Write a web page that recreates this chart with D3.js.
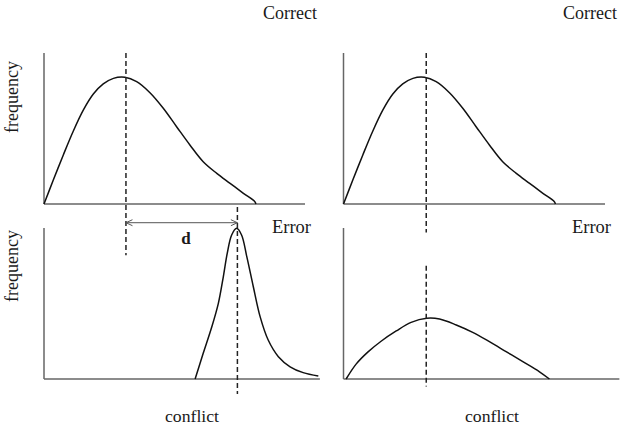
<!DOCTYPE html>
<html>
<head>
<meta charset="utf-8">
<script src="https://cdn.jsdelivr.net/npm/d3@7/dist/d3.min.js"></script>
<style>
  html, body { margin: 0; padding: 0; background: #fff; }
  svg { display: block; }
</style>
</head>
<body>
<svg id="chart" width="627" height="427"></svg>
<script>
// ---- data (conflict on 0..100 scale, frequency on 0..1 scale) ----
const correctX = [0, 3.6, 7.4, 11.2, 15.1, 18.9, 22.7, 26.6, 31.0, 35.5, 40.6, 45.7, 50.8, 55.9, 61.0, 66.2, 71.3, 76.4, 80.8, 81.2];
const correctY = [0, 0.160, 0.325, 0.482, 0.623, 0.728, 0.795, 0.832, 0.839, 0.810, 0.737, 0.634, 0.512, 0.391, 0.280, 0.203, 0.137, 0.071, 0.015, 0];

const errorLeftX = [57.9, 61.0, 64.3, 66.8, 68.7, 70.2, 71.9, 73.8, 75.7, 77.7, 80.2, 82.8, 85.9, 89.8, 94.3, 99.3, 105.1];
const errorLeftY = [0, 0.170, 0.346, 0.501, 0.677, 0.832, 0.954, 0.998, 0.954, 0.810, 0.611, 0.413, 0.258, 0.148, 0.081, 0.042, 0.020];

const errorRightX = [1.0, 4.9, 9.3, 14.4, 20.2, 25.9, 31.9, 36.8, 43.2, 49.5, 55.9, 62.3, 68.7, 75.1, 78.9];
const errorRightY = [0, 0.100, 0.178, 0.250, 0.318, 0.375, 0.402, 0.397, 0.358, 0.309, 0.247, 0.181, 0.115, 0.048, 0];

const modeCorrect = 31.4;
const modeErrorLeft = 74.1;
const modeRight = 31.7;

const labelCorrect = "Correct";
const labelError = "Error";
const labelX = "conflict";
const labelY = "frequency";
const labelD = "d";

// ---- layout ----
const FONT = "'Liberation Serif', 'Times New Roman', Times, 'DejaVu Serif', serif";
const svg = d3.select("#chart");
const xL = d3.scaleLinear().domain([0, 100]).range([44, 305]);
const xR = d3.scaleLinear().domain([0, 100]).range([343.5, 604.5]);
const yTop = d3.scaleLinear().domain([0, 1]).range([204, 53]);
const yBot = d3.scaleLinear().domain([0, 1]).range([379, 228]);

const axisColor = "#666";
function axes(x, y, xmax) {
  svg.append("line").attr("x1", x(0)).attr("x2", x(0)).attr("y1", y(0)).attr("y2", y(1))
    .attr("stroke", axisColor).attr("stroke-width", 1.5);
  svg.append("line").attr("x1", x(0)).attr("x2", x(xmax)).attr("y1", y(0)).attr("y2", y(0))
    .attr("stroke", axisColor).attr("stroke-width", 1.5);
}
axes(xL, yTop, 100);
axes(xR, yTop, 100.2);
axes(xL, yBot, 105.7);
axes(xR, yBot, 105.7);

function curve(xs, ys, x, y) {
  const pts = xs.map((v, i) => [v, ys[i]]);
  const line = d3.line().x(d => x(d[0])).y(d => y(d[1])).curve(d3.curveCatmullRom.alpha(0.5));
  svg.append("path").attr("d", line(pts)).attr("fill", "none")
    .attr("stroke", "#111").attr("stroke-width", 1.5);
}
curve(correctX, correctY, xL, yTop);
curve(correctX, correctY, xR, yTop);
curve(errorLeftX, errorLeftY, xL, yBot);
curve(errorRightX, errorRightY, xR, yBot);

function dashed(xp, y1, y2) {
  svg.append("line").attr("x1", xp).attr("x2", xp).attr("y1", y1).attr("y2", y2)
    .attr("stroke", "#222").attr("stroke-width", 1.5).attr("stroke-dasharray", "5,3");
}
dashed(xL(modeCorrect), yTop(1), yBot(0.82));
dashed(xL(modeErrorLeft), yTop(-0.02), yBot(-0.1));
dashed(xR(modeRight), yTop(1), yBot(0.97));
dashed(xR(modeRight), yBot(0.75), yBot(-0.05));

// arrow d
svg.append("defs").append("marker")
  .attr("id", "chev").attr("viewBox", "0 0 8 8").attr("refX", 7.5).attr("refY", 4)
  .attr("markerWidth", 8).attr("markerHeight", 8).attr("markerUnits", "userSpaceOnUse")
  .attr("orient", "auto-start-reverse")
  .append("path").attr("d", "M1,1 L7.5,4 L1,7").attr("fill", "none")
  .attr("stroke", "#555").attr("stroke-width", 1);
const arrowY = yBot(1.035);
svg.append("line").attr("x1", xL(modeCorrect)).attr("x2", xL(modeErrorLeft))
  .attr("y1", arrowY).attr("y2", arrowY).attr("stroke", "#555").attr("stroke-width", 1)
  .attr("marker-start", "url(#chev)").attr("marker-end", "url(#chev)");

function txt(x, y, s, anchor, size) {
  return svg.append("text").attr("x", x).attr("y", y).attr("text-anchor", anchor)
    .attr("font-family", FONT).attr("fill", "#1a1a1a").attr("font-size", size).text(s);
}
txt(186, 243.5, labelD, "middle", 17).attr("font-weight", "bold");
txt(317, 19, labelCorrect, "end", 18);
txt(617, 19, labelCorrect, "end", 18);
txt(311, 232.5, labelError, "end", 18.5);
txt(611, 233, labelError, "end", 18.5);
txt(192, 421.5, labelX, "middle", 17.7);
txt(492, 421.5, labelX, "middle", 17.7);
txt(0, 0, labelY, "middle", 18).attr("transform", "translate(18,97) rotate(-90)");
txt(0, 0, labelY, "middle", 18).attr("transform", "translate(18,266) rotate(-90)");
</script>
</body>
</html>
